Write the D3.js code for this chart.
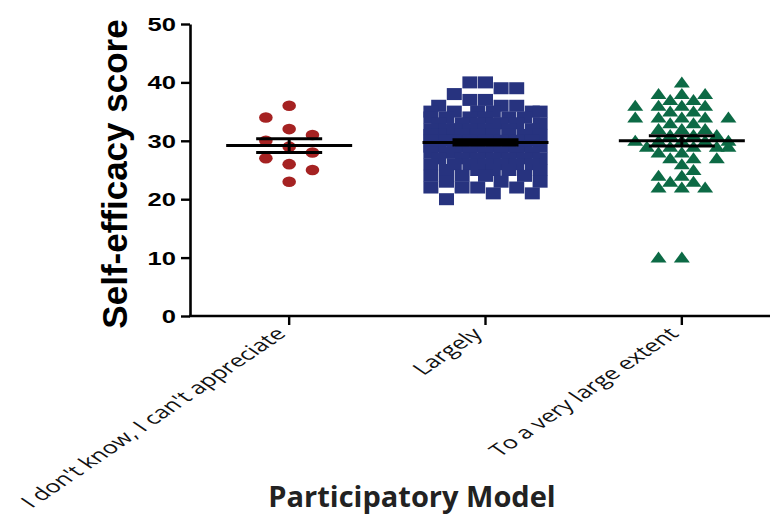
<!DOCTYPE html>
<html>
<head>
<meta charset="utf-8">
<script src="https://cdn.jsdelivr.net/npm/d3@7"></script>
<style>
  html, body { margin: 0; padding: 0; background: #ffffff; }
  svg { display: block; }
</style>
</head>
<body>
<svg id="chart" width="770" height="517"></svg>
<script>
// ---------------- data ----------------
const categories = ["I don't know, I can't appreciate", "Largely", "To a very large extent"];
const yTickValues = [0, 10, 20, 30, 40, 50];
const yLabel = "Self-efficacy score";
const xLabel = "Participatory Model";

const group1 = [36, 34, 32, 31, 30, 29, 28, 27, 26, 25, 23];
const group2 = [40, 40, 39, 39, 38, 37, 37, 36, 36, 36,
  35, 35, 35, 35, 35, 35,
  34, 34, 34, 34, 34, 34,
  33, 33, 33, 33, 33, 33, 33,
  32, 32, 32, 32, 32, 32, 32,
  31, 31, 31, 31, 31, 31, 31, 31,
  30, 30, 30, 30, 30, 30, 30, 30,
  29, 29, 29, 29, 29, 29, 29, 29,
  28, 28, 28, 28, 28, 28, 28, 28,
  27, 27, 27, 27, 27, 27, 27,
  26, 26, 26, 26, 26, 26, 26,
  25, 25, 25, 25, 25,
  24, 24, 24, 24,
  23, 23, 23,
  22, 22, 22, 22,
  21, 21,
  20];
const group3 = [40, 38, 38, 38, 37, 37, 36, 36, 36, 36, 35, 35,
  34, 34, 34, 34, 34, 33, 33, 32, 32, 32, 31, 31, 31,
  30, 30, 30, 30, 30, 29, 29, 29, 29, 29, 28, 28,
  27, 27, 27, 26, 25, 24, 24, 23, 23, 22, 22, 22, 10, 10];

const groups = [group1, group2, group3];
const colors = ["#a52222", "#27337f", "#0c6a45"];
const shapes = ["circle", "square", "triangle"];

// ---------------- layout ----------------
const svg = d3.select("#chart");
const x = d3.scaleBand().domain(categories).range([191, 780]).paddingInner(0).paddingOuter(0);
const y = d3.scaleLinear().domain([0, 50]).range([316, 24]);

// swarm parameters per group (layout only)
const swarmParams = [
  { step: 23.3, cw: 20, ch: 12, maxW: 60, metric: "rect" },
  { step: 7.8, cw: 15, ch: 12, maxW: 55, metric: "rect" },
  { step: 11.65, cw: 22.5, ch: 11.5, maxW: 50, metric: "diamond" }
];

function collides(p, dx, py, q) {
  const ax = Math.abs(q.dx - dx), ay = Math.abs(q.py - py);
  if (p.metric === "diamond") return (ax / p.cw + ay / p.ch) < 1;
  return ax < p.cw && ay < p.ch;
}
function overlap(p, dx, py, q) {
  const ox = Math.max(0, p.cw - Math.abs(q.dx - dx));
  const oy = Math.max(0, p.ch - Math.abs(q.py - py));
  return ox * oy;
}

function swarm(values, p) {
  const placed = [];
  const sorted = values.slice().sort((a, b) => b - a);
  const maxSlot = Math.floor(p.maxW / p.step + 1e-6);
  sorted.forEach(v => {
    const py = y(v);
    const plusFirst = (v % 2 === 1);
    const cands = [0];
    for (let m = 1; m <= maxSlot; m++) {
      if (plusFirst) { cands.push(m, -m); } else { cands.push(-m, m); }
    }
    let chosen = null;
    for (const s of cands) {
      const dx = s * p.step;
      if (!placed.some(q => collides(p, dx, py, q))) { chosen = dx; break; }
    }
    if (chosen === null) {
      let best = Infinity;
      for (const s of cands) {
        const dx = s * p.step;
        const sc = d3.sum(placed, q => overlap(p, dx, py, q));
        if (sc < best - 1e-9) { best = sc; chosen = dx; }
      }
    }
    placed.push({ v, py, dx: chosen });
  });
  return placed;
}

// ---------------- axes ----------------
const yAxis = svg.append("g")
  .attr("transform", "translate(190,0)")
  .call(d3.axisLeft(y).tickValues(yTickValues).tickSize(9).tickSizeOuter(0).tickFormat(d3.format("d")));
yAxis.select(".domain").attr("stroke", "#000").attr("stroke-width", 2.6);
yAxis.selectAll(".tick line").attr("stroke", "#000").attr("stroke-width", 2.4);
yAxis.selectAll(".tick text")
  .attr("x", 0).attr("dy", "0.36em")
  .attr("transform", "translate(-14,0) scale(1.42,1)")
  .attr("text-anchor", "end")
  .style("font-family", "'Liberation Sans', Arial, sans-serif")
  .style("font-weight", "bold")
  .style("font-size", "18px")
  .attr("fill", "#000");

const xAxis = svg.append("g")
  .attr("transform", "translate(0,316)")
  .call(d3.axisBottom(x).tickSize(9).tickSizeOuter(0));
xAxis.select(".domain").attr("stroke", "#000").attr("stroke-width", 2.6).attr("d", "M189,0H780");
xAxis.selectAll(".tick line").attr("stroke", "#000").attr("stroke-width", 2.4);
xAxis.selectAll(".tick text")
  .attr("x", 0).attr("y", 0).attr("dy", 0)
  .attr("text-anchor", "end")
  .attr("transform", "translate(-2,19) scale(1.47,1) rotate(-45)")
  .style("font-family", "'Open Sans', sans-serif")
  .style("font-size", "17.3px")
  .attr("fill", "#111");

// ---------------- markers ----------------
groups.forEach((vals, gi) => {
  const cx = x(categories[gi]) + x.bandwidth() / 2;
  const pts = swarm(vals, swarmParams[gi]);
  const g = svg.append("g").attr("fill", colors[gi]);
  if (shapes[gi] === "circle") {
    g.selectAll("ellipse").data(pts).join("ellipse")
      .attr("cx", d => cx + d.dx).attr("cy", d => d.py)
      .attr("rx", 6.8).attr("ry", 5.3);
  } else if (shapes[gi] === "square") {
    g.selectAll("rect").data(pts).join("rect")
      .attr("x", d => cx + d.dx - 7.5).attr("y", d => d.py - 6)
      .attr("width", 15).attr("height", 12);
  } else {
    g.selectAll("path").data(pts).join("path")
      .attr("d", d => {
        const px = cx + d.dx, py = d.py;
        return `M${px},${py - 6}L${px + 8},${py + 5}L${px - 8},${py + 5}Z`;
      });
  }

  // mean and SEM
  const mean = d3.mean(vals);
  const sem = d3.deviation(vals) / Math.sqrt(vals.length);
  const lg = svg.append("g").attr("stroke", "#000").attr("stroke-width", 3).attr("fill", "none");
  lg.append("line").attr("x1", cx - 63).attr("x2", cx + 63).attr("y1", y(mean)).attr("y2", y(mean));
  lg.append("line").attr("x1", cx).attr("x2", cx).attr("y1", y(mean - sem)).attr("y2", y(mean + sem));
  lg.append("line").attr("x1", cx - 33).attr("x2", cx + 33).attr("y1", y(mean + sem)).attr("y2", y(mean + sem));
  lg.append("line").attr("x1", cx - 33).attr("x2", cx + 33).attr("y1", y(mean - sem)).attr("y2", y(mean - sem));
});

// ---------------- titles ----------------
svg.append("text")
  .attr("transform", "translate(127,174) rotate(-90)")
  .attr("text-anchor", "middle")
  .style("font-family", "'Liberation Sans', Arial, sans-serif")
  .style("font-weight", "bold")
  .style("font-size", "35px")
  .attr("fill", "#000")
  .text(yLabel);

svg.append("text")
  .attr("x", 412).attr("y", 507)
  .attr("text-anchor", "middle")
  .style("font-family", "'Open Sans', sans-serif")
  .style("font-weight", "bold")
  .style("font-size", "29px")
  .attr("fill", "#222")
  .text(xLabel);
</script>
</body>
</html>
